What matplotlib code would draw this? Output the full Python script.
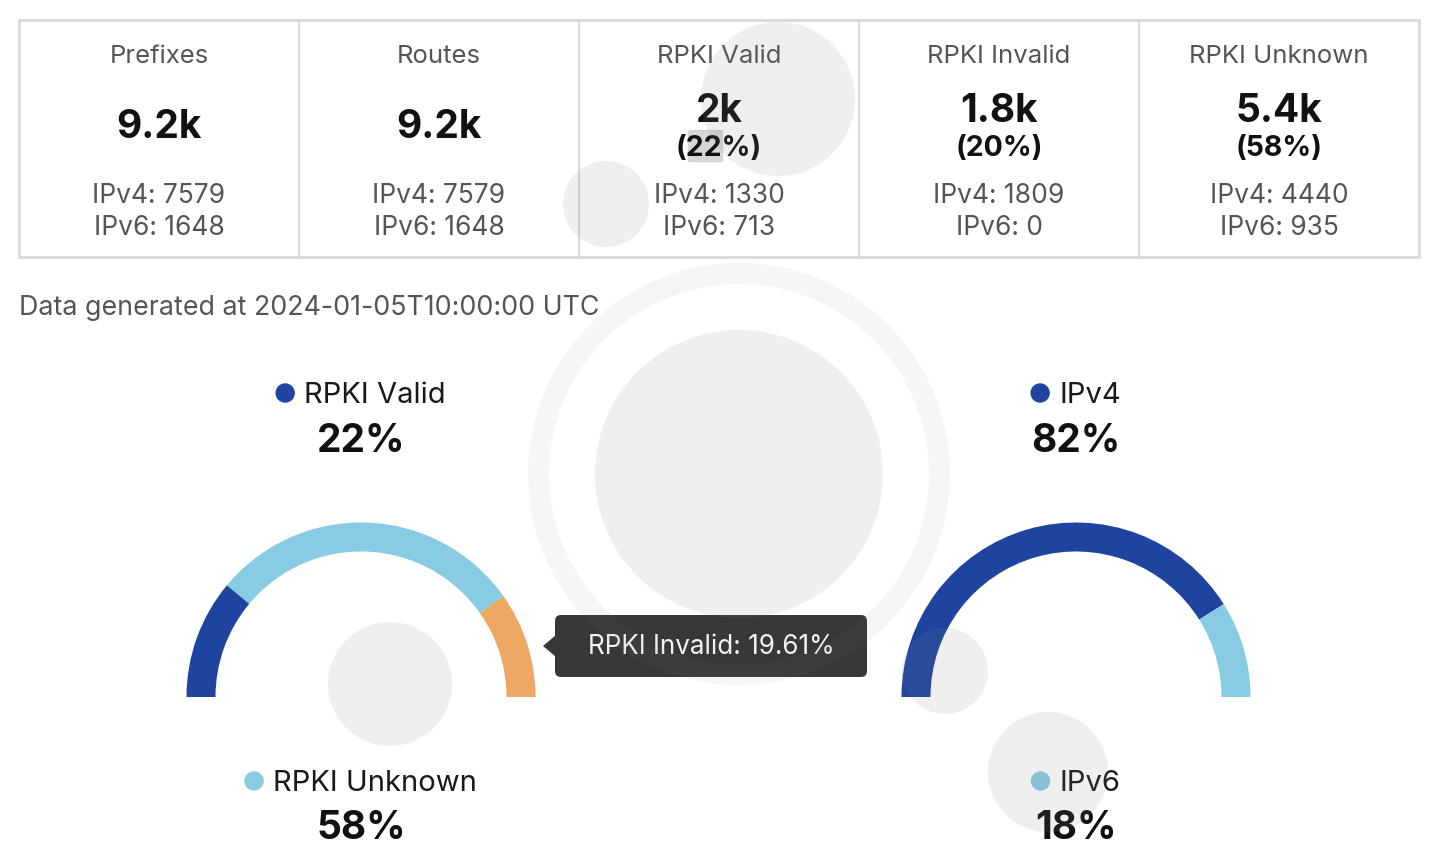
import matplotlib
matplotlib.use("Agg")
import matplotlib.pyplot as plt
from matplotlib.patches import Wedge, Circle, Rectangle, FancyBboxPatch, Polygon

plt.rcParams['font.family'] = ['Inter', 'DejaVu Sans']

# ------------------------------------------------------------
# DATA
# ------------------------------------------------------------

card_titles = ["Prefixes", "Routes", "RPKI Valid", "RPKI Invalid", "RPKI Unknown"]
card_ipv4 = [7579, 7579, 1330, 1809, 4440]
card_ipv6 = [1648, 1648, 713, 0, 935]
card_show_pct = [False, False, True, True, True]

generated_at = "2024-01-05T10:00:00 UTC"

# left gauge: order along the arc
rpki_labels = ["RPKI Valid", "RPKI Unknown", "RPKI Invalid"]
rpki_counts = [1330 + 713, 4440 + 935, 1809 + 0]

# right gauge
ip_labels = ["IPv4", "IPv6"]
ip_counts = [7579, 1648]

tooltip_label = "RPKI Invalid"

# ------------------------------------------------------------
# STYLE
# ------------------------------------------------------------

DARK_BLUE = "#1f44a0"
LIGHT_BLUE = "#88cbe3"
ORANGE = "#eea863"
GREY_TEXT = "#555555"
BORDER = "#d9d9d9"

rpki_colors = [DARK_BLUE, LIGHT_BLUE, ORANGE]
ip_colors = [DARK_BLUE, LIGHT_BLUE]


def short_k(n):
    s = f"{n / 1000:.1f}"
    if s.endswith(".0"):
        s = s[:-2]
    return s + "k"


fig = plt.figure(figsize=(14.4, 8.59), dpi=100)
ax = fig.add_axes([0, 0, 1, 1])
ax.set_xlim(0, 1440)
ax.set_ylim(859, 0)
ax.axis('off')

# ------------------------------------------------------------
# SUMMARY CARDS
# ------------------------------------------------------------

X0, X1, Y0, Y1 = 19, 1419, 20, 257
col_w = (X1 - X0) / len(card_titles)
total_routes = card_ipv4[1] + card_ipv6[1]

ax.add_patch(Rectangle((X0, Y0), X1 - X0, Y1 - Y0, fill=False,
                       edgecolor=BORDER, linewidth=2))
for i in range(1, len(card_titles)):
    x = X0 + i * col_w
    ax.plot([x, x], [Y0, Y1], color=BORDER, linewidth=1.5)

for i, title in enumerate(card_titles):
    cx = X0 + col_w * (i + 0.5)
    total = card_ipv4[i] + card_ipv6[i]
    ax.text(cx, 63, title, ha='center', va='baseline', fontsize=18.5,
            color=GREY_TEXT)
    if card_show_pct[i]:
        pct = round(total / total_routes * 100)
        ax.text(cx, 122, short_k(total), ha='center', va='baseline',
                fontsize=28, fontweight='bold', color='#111111')
        ax.text(cx, 156, f"({pct}%)", ha='center', va='baseline',
                fontsize=20.5, fontweight='bold', color='#111111')
    else:
        ax.text(cx, 138, short_k(total), ha='center', va='baseline',
                fontsize=28, fontweight='bold', color='#111111')
    ax.text(cx, 203, f"IPv4: {card_ipv4[i]}", ha='center', va='baseline',
            fontsize=19, color=GREY_TEXT)
    ax.text(cx, 235, f"IPv6: {card_ipv6[i]}", ha='center', va='baseline',
            fontsize=19, color=GREY_TEXT)

# selection highlight behind "22" in the RPKI Valid card
ax.add_patch(Rectangle((688, 130), 34, 31, color='#d6d6d6', zorder=0))

ax.text(X0, 315, f"Data generated at {generated_at}", ha='left',
        va='baseline', fontsize=19.3, color=GREY_TEXT)

# ------------------------------------------------------------
# GAUGES
# ------------------------------------------------------------

renderer = fig.canvas.get_renderer()


def legend_item(cx, y, label, color):
    t = ax.text(0, y, label, ha='left', va='baseline', fontsize=21,
                color='#1a1a1a')
    w = t.get_window_extent(renderer).width
    dot_d, gap = 18, 10
    start = cx - (dot_d + gap + w) / 2
    t.set_x(start + dot_d + gap)
    ax.add_patch(Circle((start + dot_d / 2, y - 10), dot_d / 2, color=color))


def gauge(cx, cy, labels, counts, colors, top_idx, bottom_idx):
    total = sum(counts)
    f0 = 0
    for c, col in zip(counts, colors):
        f1 = f0 + c / total
        ax.add_patch(Wedge((cx, cy), 174.5, 180 + 180 * f0, 180 + 180 * f1,
                           width=29, color=col, linewidth=0))
        f0 = f1
    for idx, y_lab, y_pct in [(top_idx, 403, 452), (bottom_idx, 791, 839)]:
        legend_item(cx, y_lab, labels[idx], colors[idx])
        pct = round(counts[idx] / total * 100)
        ax.text(cx, y_pct, f"{pct}%", ha='center', va='baseline',
                fontsize=28, fontweight='bold', color='#111111')


gauge(361, 697, rpki_labels, rpki_counts, rpki_colors, 0, 1)
gauge(1076, 697, ip_labels, ip_counts, ip_colors, 0, 1)

# ------------------------------------------------------------
# TOOLTIP
# ------------------------------------------------------------

tip_idx = rpki_labels.index(tooltip_label)
tip_val = rpki_counts[tip_idx] / sum(rpki_counts) * 100
ax.add_patch(FancyBboxPatch((555, 615), 312, 62,
                            boxstyle="round,pad=0,rounding_size=6",
                            facecolor='#383838', edgecolor='none', zorder=5))
ax.add_patch(Polygon([[556, 635], [543, 646], [556, 657]], closed=True,
                     facecolor='#383838', edgecolor='none', zorder=5))
ax.text(711, 647, f"{tooltip_label}: {tip_val:.2f}%", ha='center',
        va='center', fontsize=18.8, color='#f2f2f2', zorder=6)

# ------------------------------------------------------------
# TOUCH INDICATORS (screen overlay)
# ------------------------------------------------------------

touch_dots = [(778, 99, 77), (606, 204, 43), (739, 474, 144),
              (390, 684, 62), (945, 671, 43), (1048, 772, 60)]
for x, y, r in touch_dots:
    ax.add_patch(Circle((x, y), r, facecolor='#7e7e7e', alpha=0.12,
                        edgecolor='none', zorder=10))
ax.add_patch(Wedge((739, 474), 211, 0, 360, width=21, facecolor='#7e7e7e',
                   alpha=0.07, edgecolor='none', zorder=10))

fig.savefig("out.png", dpi=100, facecolor='white')
